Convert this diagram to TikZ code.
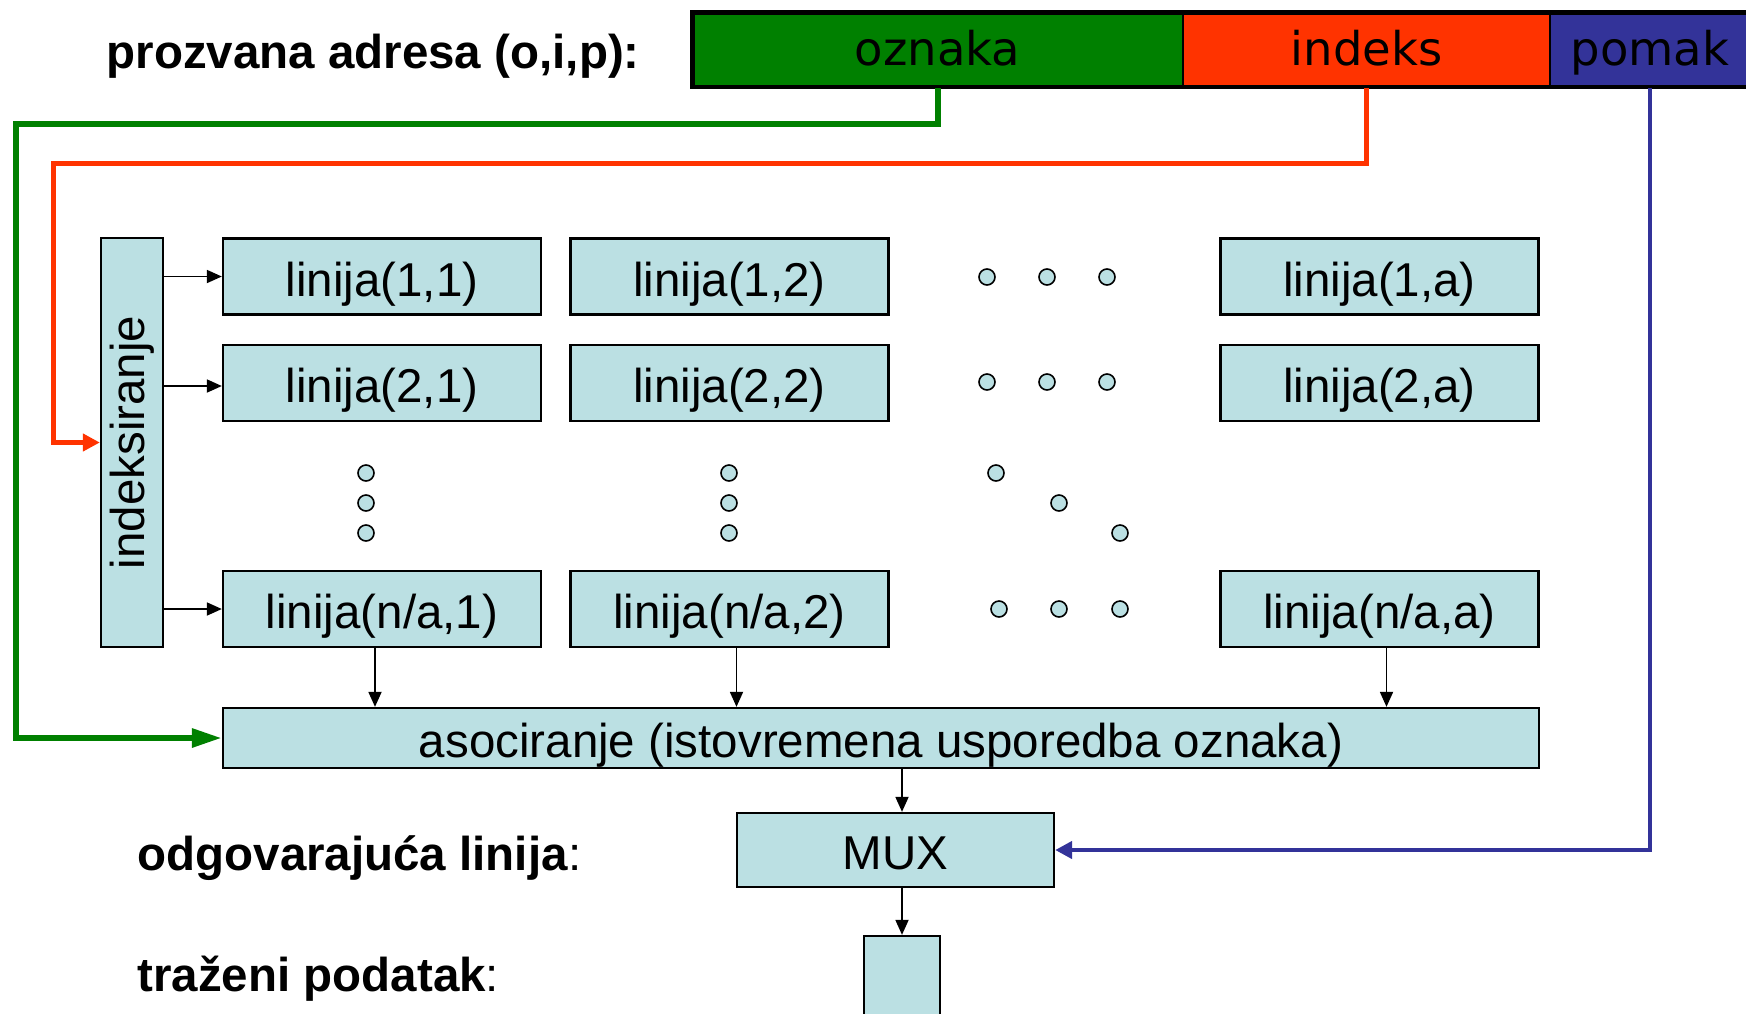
\documentclass[tikz,border=0pt]{standalone}
\usepackage{fontspec}
\usepackage{graphicx}
\setmainfont{Liberation Sans}
\newfontfamily\dvs{DejaVu Sans}
\usetikzlibrary{arrows.meta,calc}
\definecolor{boxfill}{RGB}{187,224,227}
\definecolor{ogreen}{RGB}{0,128,0}
\definecolor{ored}{RGB}{255,51,0}
\definecolor{oblue}{RGB}{51,51,153}
\begin{document}
\begin{tikzpicture}[x=1pt,y=-1pt,
  cellbase/.style={draw=black,line width=2.3pt,fill=boxfill,inner sep=0pt,
    font=\fontsize{47.5}{57}\selectfont},
  cell/.style={cellbase,text height=39pt,text depth=0pt},
  lin/.style={cell,minimum width=318pt,minimum height=76pt},
  dot/.style={circle,draw=black,line width=1.6pt,fill=boxfill,minimum size=16pt,inner sep=0pt},
  blk/.style={line width=1.8pt,-{Triangle[length=15pt,width=13pt]}},
  gline/.style={draw=ogreen,line width=6pt,-{Triangle[length=30pt,width=18pt]}},
  rline/.style={draw=ored,line width=5pt,-{Triangle[length=17pt,width=17pt]}},
  bline/.style={draw=oblue,line width=4.5pt,-{Triangle[length=17pt,width=17pt]}},
  barcell/.style={draw=black,line width=2pt,inner sep=0pt,minimum height=75pt,
    text height=31pt,text depth=0pt,font=\dvs\fontsize{46.5}{56}\selectfont},
  lab/.style={anchor=base west,font=\bfseries\fontsize{47.5}{57}\selectfont}
]
\useasboundingbox (0,0) rectangle (1746,1013);

% address bar
\node[barcell,fill=ogreen,minimum width=491pt] (oz) at (937.5,49.5) {oznaka};
\node[barcell,fill=ored,minimum width=367pt] (ind) at (1366.5,49.5) {indeks};
\node[barcell,fill=oblue,minimum width=200pt] (pom) at (1650,49.5) {pomak};
\draw[line width=4.5pt] (692.5,12.3) rectangle (1800,87);

% labels
\node[lab] (lab1) at (103,68) {prozvana adresa (o,i,p):};
\node[lab] (lab2) at (134,870) {odgovarajuća linija\textmd{:}};
\node[lab] (lab3) at (134,991) {traženi podatak\textmd{:}};

% boxes
\node[cellbase,minimum width=62pt,minimum height=409pt] (idx) at (132,442.5) {\rotatebox{90}{indeksiranje}};
\node[lin] (l11) at (382,276.5) {linija(1,1)};
\node[lin] (l12) at (729.5,276.5) {linija(1,2)};
\node[lin] (l1a) at (1379.5,276.5) {linija(1,a)};
\node[lin] (l21) at (382,383) {linija(2,1)};
\node[lin] (l22) at (729.5,383) {linija(2,2)};
\node[lin] (l2a) at (1379.5,383) {linija(2,a)};
\node[lin] (ln1) at (382,609) {linija(n/a,1)};
\node[lin] (ln2) at (729.5,609) {linija(n/a,2)};
\node[lin] (lna) at (1379.5,609) {linija(n/a,a)};
\node[cell,minimum width=1316pt,minimum height=60pt] (asoc) at (881,738) {asociranje (istovremena usporedba oznaka)};
\node[cell,minimum width=317pt,minimum height=74pt] (mux) at (895.5,850) {MUX};
\node[cell,minimum width=76pt,minimum height=90pt] (out) at (902,981) {};

% dots
\foreach \x/\y [count=\i] in {987/277,1047/277,1107/277,987/382,1047/382,1107/382,
  996/473,1059/503,1120/533,999/609,1059/609,1120/609,
  366/473,366/503,366/533,729/473,729/503,729/533}
  \node[dot] (d\i) at (\x,\y) {};

% black arrows
\draw[blk] (idx.east |- l11.west) -- (l11.west);
\draw[blk] ([yshift=-3pt]idx.east |- l21.west) -- ([yshift=-3pt]l21.west);
\draw[blk] (idx.east |- ln1.west) -- (ln1.west);
\draw[blk] ([xshift=-7pt]ln1.south) -- ([xshift=-7pt]ln1.south |- asoc.north);
\draw[blk] ([xshift=7pt]ln2.south) -- ([xshift=7pt]ln2.south |- asoc.north);
\draw[blk] ([xshift=7pt]lna.south) -- ([xshift=7pt]lna.south |- asoc.north);
\draw[blk] (asoc.south -| out.north) -- (mux.north -| out.north);
\draw[blk] (mux.south -| out.north) -- (out.north);

% coloured connectors
\coordinate (gc) at (16,124);
\coordinate (rc) at (53,163);
\draw[gline] (oz.south) |- (gc) |- (asoc.west);
\draw[rline] (ind.south) |- (rc) |- (idx.west);
\draw[bline] (pom.south) |- (mux.east);
\end{tikzpicture}
\end{document}
